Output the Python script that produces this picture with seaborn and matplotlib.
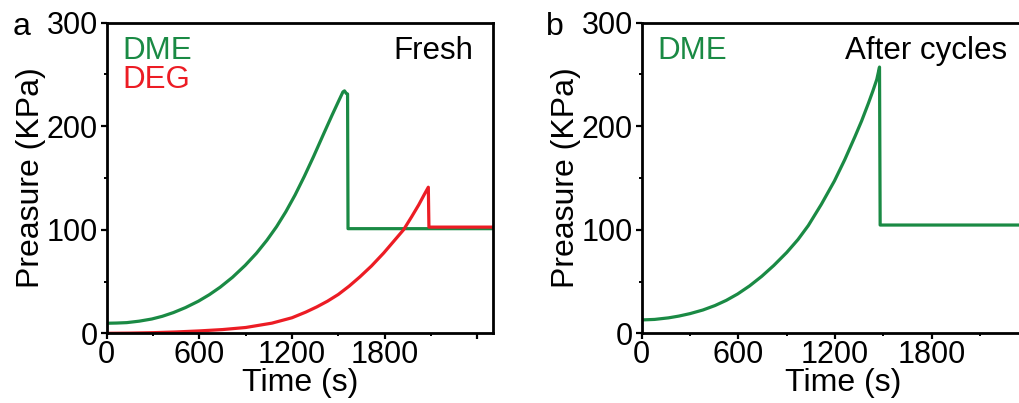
import numpy as np
import pandas as pd
import matplotlib
matplotlib.use("Agg")
import matplotlib.pyplot as plt
import seaborn as sns
from matplotlib.ticker import MultipleLocator, FixedLocator, FixedFormatter

# ---- data ----
# Panel a, DME (fresh)
t_dme_a = [0, 65, 130, 210, 292, 360, 432, 510, 594, 665, 735, 815, 897, 970, 1038,
           1100, 1160, 1220, 1280, 1340, 1405, 1460, 1500, 1530, 1540, 1552, 1560, 1563, 2500]
p_dme_a = [9.7, 9.9, 10.3, 11.7, 13.8, 16.4, 20, 24.8, 31, 37.3, 44.5, 54.1, 65.6, 77.3, 89.9,
           102.9, 117.3, 133.5, 151.5, 170.7, 192.5, 210.7, 223.5, 233, 234, 231.5, 231, 101, 101]
# Panel a, DEG (fresh)
t_deg_a = [0, 150, 300, 450, 600, 750, 900, 1070, 1200, 1290, 1361, 1430, 1500, 1570,
           1640, 1715, 1794, 1860, 1923, 1975, 2021, 2057, 2083, 2087, 2500]
p_deg_a = [0, 0.2, 0.6, 1.3, 2.3, 3.6, 5.6, 9.8, 15, 20.5, 25.5, 31, 37.5, 45.5,
           54.5, 65, 77.5, 89, 100, 112.5, 124, 134, 141, 102.5, 102.5]
# Panel b, DME (after cycles)
t_dme_b = [0, 80, 166, 230, 300, 380, 455, 525, 596, 670, 745, 820, 900, 970, 1034,
           1115, 1196, 1260, 1324, 1365, 1407, 1435, 1459, 1476, 1480, 2500]
p_dme_b = [12.9, 13.4, 14.9, 16.6, 19, 22.5, 26.8, 31.8, 38, 45.8, 55, 65.5, 78, 90.5, 104,
           124.5, 147, 167.5, 190, 205, 222, 234, 245, 257, 104.5, 104.5]

x_ticks = [0, 600, 1200, 1800, 2400]
x_ticklabels = ["0", "600", "1200", "1800", ""]
y_ticks = [0, 100, 200, 300]

GREEN = "#1a8a44"
RED = "#ec1c24"

sns.set_style("ticks")
plt.rcParams["font.family"] = ["Liberation Sans", "DejaVu Sans"]
plt.rcParams["axes.linewidth"] = 2.0
for k in ("text.color", "axes.labelcolor", "xtick.color", "ytick.color", "axes.edgecolor"):
    plt.rcParams[k] = "black"

fig = plt.figure(figsize=(10.19, 4.03), dpi=100)
W, H = 1019, 403
ax_a = fig.add_axes([106.7 / W, (H - 333.3) / H, 386 / W, 310.8 / H])
ax_b = fig.add_axes([641.7 / W, (H - 333.3) / H, 402.8 / W, 310.8 / H])

df_a1 = pd.DataFrame({"t": t_dme_a, "p": p_dme_a})
df_a2 = pd.DataFrame({"t": t_deg_a, "p": p_deg_a})
df_b = pd.DataFrame({"t": t_dme_b, "p": p_dme_b})

sns.lineplot(data=df_a1, x="t", y="p", ax=ax_a, color=GREEN, lw=2.3, sort=False, estimator=None)
sns.lineplot(data=df_a2, x="t", y="p", ax=ax_a, color=RED, lw=2.3, sort=False, estimator=None)
sns.lineplot(data=df_b, x="t", y="p", ax=ax_b, color=GREEN, lw=2.3, sort=False, estimator=None)

for ax in (ax_a, ax_b):
    ax.set_xlim(0, 2500)
    ax.set_ylim(0, 300)
    ax.xaxis.set_major_locator(FixedLocator(x_ticks))
    ax.xaxis.set_major_formatter(FixedFormatter(x_ticklabels))
    ax.xaxis.set_minor_locator(MultipleLocator(300))
    ax.yaxis.set_major_locator(FixedLocator(y_ticks))
    ax.yaxis.set_minor_locator(MultipleLocator(50))
    ax.tick_params(which="major", direction="out", length=4.5, width=1.6,
                   labelsize=22, color="black", labelcolor="black")
    ax.tick_params(axis="x", which="major", pad=0.5)
    ax.tick_params(axis="y", which="major", pad=2)
    ax.tick_params(which="minor", direction="out", length=2.5, width=1.4, color="black")
    for s in ax.spines.values():
        s.set_visible(True)
        s.set_linewidth(2.0)
        s.set_color("black")
    ax.set_xlabel("Time (s)", fontsize=23, labelpad=-1.5)
    ax.set_ylabel("Preasure (KPa)", fontsize=23, labelpad=0)

ax_a.text(0.041, 0.958, "DME", color=GREEN, fontsize=22.5, transform=ax_a.transAxes, ha="left", va="top")
ax_a.text(0.041, 0.862, "DEG", color=RED, fontsize=22.5, transform=ax_a.transAxes, ha="left", va="top")
ax_a.text(0.95, 0.958, "Fresh", color="black", fontsize=22.5, transform=ax_a.transAxes, ha="right", va="top")

ax_b.text(0.04, 0.958, "DME", color=GREEN, fontsize=22.5, transform=ax_b.transAxes, ha="left", va="top")
ax_b.text(0.504, 0.958, "After cycles", color="black", fontsize=22.5, transform=ax_b.transAxes, ha="left", va="top")

fig.text(13 / W, 1 - 35 / H, "a", fontsize=23, ha="left", va="baseline")
fig.text(546 / W, 1 - 35 / H, "b", fontsize=23, ha="left", va="baseline")

fig.savefig("out.png", dpi=100)
